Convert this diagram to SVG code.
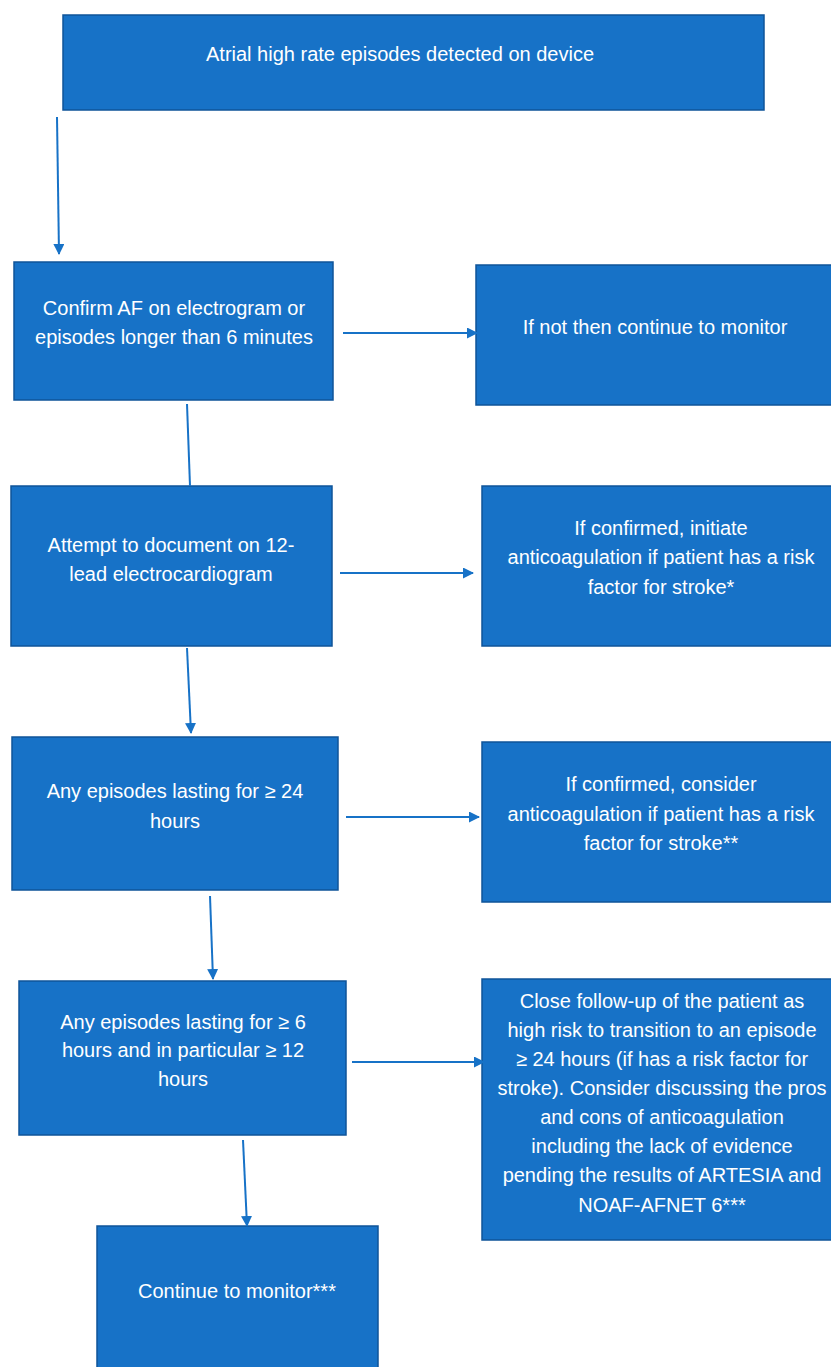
<svg xmlns="http://www.w3.org/2000/svg" width="831" height="1367" viewBox="0 0 831 1367">
<style>
.box{fill:#1772C7;stroke:#0F5499;stroke-width:1.5}
.t{font-family:"Liberation Sans",Arial,sans-serif;font-size:20px;fill:#FFFFFF;text-anchor:middle}
.c{stroke:#1772C7;stroke-width:2;fill:none}
</style>
<defs>
<marker id="ah" markerWidth="11" markerHeight="11" refX="10" refY="5.5" orient="auto" markerUnits="userSpaceOnUse">
<path d="M0,0 L11,5.5 L0,11 Z" fill="#1772C7"/>
</marker>
</defs>
<rect width="831" height="1367" fill="#FFFFFF"/>
<g id="n1"><rect class="box" x="63" y="15" width="701" height="95"/><text class="t" x="400" y="61">Atrial high rate episodes detected on device</text></g>
<g id="n2"><rect class="box" x="14" y="262" width="319" height="138"/><text class="t" x="174" y="315">Confirm AF on electrogram or</text><text class="t" x="174" y="344">episodes longer than 6 minutes</text></g>
<g id="n3"><rect class="box" x="476" y="265" width="360" height="140"/><text class="t" x="655" y="334">If not then continue to monitor</text></g>
<g id="n4"><rect class="box" x="11" y="486" width="321" height="160"/><text class="t" x="171" y="552">Attempt to document on 12-</text><text class="t" x="171" y="581">lead electrocardiogram</text></g>
<g id="n5"><rect class="box" x="482" y="486" width="354" height="160"/><text class="t" x="661" y="535">If confirmed, initiate</text><text class="t" x="661" y="564">anticoagulation if patient has a risk</text><text class="t" x="661" y="594">factor for stroke*</text></g>
<g id="n6"><rect class="box" x="12" y="737" width="326" height="153"/><text class="t" x="175" y="798">Any episodes lasting for ≥ 24</text><text class="t" x="175" y="828">hours</text></g>
<g id="n7"><rect class="box" x="482" y="742" width="354" height="160"/><text class="t" x="661" y="791">If confirmed, consider</text><text class="t" x="661" y="821">anticoagulation if patient has a risk</text><text class="t" x="661" y="850">factor for stroke**</text></g>
<g id="n8"><rect class="box" x="19" y="981" width="327" height="154"/><text class="t" x="183" y="1029">Any episodes lasting for ≥ 6</text><text class="t" x="183" y="1057">hours and in particular ≥ 12</text><text class="t" x="183" y="1086">hours</text></g>
<g id="n9"><rect class="box" x="482" y="979" width="354" height="261"/>
<text class="t" x="662" y="1008">Close follow-up of the patient as</text>
<text class="t" x="662" y="1037">high risk to transition to an episode</text>
<text class="t" x="662" y="1066">≥ 24 hours (if has a risk factor for</text>
<text class="t" x="662" y="1095">stroke). Consider discussing the pros</text>
<text class="t" x="662" y="1124">and cons of anticoagulation</text>
<text class="t" x="662" y="1153">including the lack of evidence</text>
<text class="t" x="662" y="1182">pending the results of ARTESIA and</text>
<text class="t" x="662" y="1212">NOAF-AFNET 6***</text></g>
<g id="n10"><rect class="box" x="97" y="1226" width="281" height="150"/><text class="t" x="237" y="1298">Continue to monitor***</text></g>
<g id="connectors">
<line class="c" x1="57" y1="117" x2="59" y2="254" marker-end="url(#ah)"/>
<line class="c" x1="343" y1="333" x2="477" y2="333" marker-end="url(#ah)"/>
<line class="c" x1="187" y1="404" x2="190" y2="486"/>
<line class="c" x1="340" y1="573" x2="473" y2="573" marker-end="url(#ah)"/>
<line class="c" x1="187" y1="648" x2="191" y2="733" marker-end="url(#ah)"/>
<line class="c" x1="346" y1="817" x2="479" y2="817" marker-end="url(#ah)"/>
<line class="c" x1="210" y1="896" x2="213" y2="979" marker-end="url(#ah)"/>
<line class="c" x1="352" y1="1062" x2="484" y2="1062" marker-end="url(#ah)"/>
<line class="c" x1="243" y1="1140" x2="247" y2="1226" marker-end="url(#ah)"/>
</g>
</svg>
